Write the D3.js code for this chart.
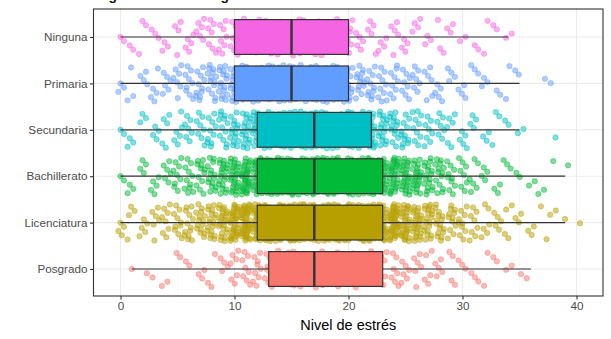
<!DOCTYPE html>
<html><head><meta charset="utf-8">
<script src="https://cdn.jsdelivr.net/npm/d3@7"></script>
<style>html,body{margin:0;padding:0;background:#fff}</style>
</head><body>
<script>
// Categories (top to bottom) and colours
const categories = ["Ninguna","Primaria","Secundaria","Bachillerato","Licenciatura","Posgrado"];
const colors = ["#F564E3","#619CFF","#00BFC4","#00BA38","#B79F00","#F8766D"];
const xTicks = [0,10,20,30,40];
const xMinorTicks = [5,15,25,35];
// Estimated counts of respondents per stress level (0..40) per category
const countsNinguna = [2,2,3,3,3,4,5,6,7,8, 9,9,9,10,10,11,10,10,9,9, 9,5,5,4,5,4,4,3,3,3, 2,2,2,2,2,0,0,0,0,0,0];
const countsPrimaria = [3,3,4,5,6,7,9,11,14,16, 18,18,19,20,20,20,19,18,17,16, 15,13,11,10,9,8,7,6,5,4, 4,3,3,2,2,2,0,1,1,0,0];
const countsSecundaria = [2,3,3,4,5,6,7,8,10,12, 15,18,22,23,24,25,25,25,24,23, 22,21,20,17,14,12,10,8,7,6, 5,4,3,3,2,2,0,0,1,0,0];
const countsBachillerato = [2,3,4,5,6,9,11,12,15,20, 26,32,28,32,34,35,36,36,35,34, 32,30,28,25,30,26,22,18,14,10, 8,6,4,3,3,2,2,2,1,1,0];
const countsLicenciatura = [4,4,5,6,8,10,13,15,18,24, 34,42,36,40,43,45,46,46,45,43, 40,38,35,32,40,30,25,20,16,12, 10,8,6,5,4,3,3,2,2,1,1];
const countsPosgrado = [0,1,1,1,2,2,2,3,3,4, 7,8,9,10,11,12,12,12,10,9, 8,8,7,7,7,6,6,5,5,4, 3,3,2,2,2,1,1,0,0,0,0];
const allCounts = [countsNinguna,countsPrimaria,countsSecundaria,countsBachillerato,countsLicenciatura,countsPosgrado];

const W = 611, H = 339;
const svg = d3.select("body").append("svg").attr("width",W).attr("height",H)
  .style("font-family","'Liberation Sans', Arial, sans-serif");

const pL = 93.5, pR = 603, pT = 9, pB = 296;
const k = 11.4;
const x = d3.scaleLinear().domain([(pL-120.5)/k, (pR-120.5)/k]).range([pL,pR]);
const y = d3.scalePoint().domain(categories).range([37, 269]);
const step = y.step();

// title (cut off at the top edge, as in the reference)
svg.append("text").attr("x",96).attr("y",0).attr("font-size",14).attr("font-weight","bold")
  .attr("fill","#111").text("Figura 1. Estrés según nivel educativo");

// grid
const g = svg.append("g");
g.selectAll(".minor").data(xMinorTicks).join("line")
  .attr("x1",d=>x(d)).attr("x2",d=>x(d)).attr("y1",pT).attr("y2",pB)
  .attr("stroke","#f2f2f2").attr("stroke-width",0.6);
g.selectAll(".major").data(xTicks).join("line")
  .attr("x1",d=>x(d)).attr("x2",d=>x(d)).attr("y1",pT).attr("y2",pB)
  .attr("stroke","#ebebeb").attr("stroke-width",1.1);
g.selectAll(".hmajor").data(categories).join("line")
  .attr("x1",pL).attr("x2",pR).attr("y1",d=>y(d)).attr("y2",d=>y(d))
  .attr("stroke","#ebebeb").attr("stroke-width",1.1);

// jittered points (deterministic low-discrepancy jitter, ±0.4)
const a1 = 0.7548776662, a2 = 0.5698402910;
const frac = v => v - Math.floor(v);
const ptsG = svg.append("g");
categories.forEach((cat,ci)=>{
  const pts = [];
  let idx = 0;
  allCounts[ci].forEach((c,v)=>{
    for(let j=0;j<c;j++){ pts.push({v, i: idx++}); }
  });
  ptsG.append("g").selectAll("circle").data(pts).join("circle")
    .attr("cx",d=>x(d.v + (frac(0.5 + d.i*a1*7.13) - 0.5)*0.8))
    .attr("cy",d=>y(cat) + (frac(0.5 + d.i*a2*3.71) - 0.5)*0.8*step)
    .attr("r",2.7)
    .attr("fill",colors[ci]).attr("fill-opacity",0.5)
    .attr("stroke",colors[ci]).attr("stroke-opacity",0.5).attr("stroke-width",0.8);
});

// boxplots
const boxG = svg.append("g");
categories.forEach((cat,ci)=>{
  const vals = [];
  allCounts[ci].forEach((c,v)=>{ for(let j=0;j<c;j++) vals.push(v); });
  vals.sort(d3.ascending);
  const q1 = d3.quantile(vals,0.25), med = d3.quantile(vals,0.5), q3 = d3.quantile(vals,0.75);
  const iqr = q3-q1;
  const lo = d3.min(vals.filter(v=>v>=q1-1.5*iqr));
  const hi = d3.max(vals.filter(v=>v<=q3+1.5*iqr));
  const cy = y(cat), bh = step*0.75;
  boxG.append("line").attr("x1",x(lo)).attr("x2",x(q1)).attr("y1",cy).attr("y2",cy)
    .attr("stroke","#333").attr("stroke-width",1.2);
  boxG.append("line").attr("x1",x(q3)).attr("x2",x(hi)).attr("y1",cy).attr("y2",cy)
    .attr("stroke","#333").attr("stroke-width",1.2);
  boxG.append("rect").attr("x",x(q1)).attr("width",x(q3)-x(q1)).attr("y",cy-bh/2).attr("height",bh)
    .attr("fill",colors[ci]).attr("stroke","#333").attr("stroke-width",1.2);
  boxG.append("line").attr("x1",x(med)).attr("x2",x(med)).attr("y1",cy-bh/2).attr("y2",cy+bh/2)
    .attr("stroke","#333").attr("stroke-width",2.4);
});

// panel border
svg.append("rect").attr("x",pL).attr("y",pT).attr("width",pR-pL).attr("height",pB-pT)
  .attr("fill","none").attr("stroke","#333").attr("stroke-width",1.1);

// axes
const xAxis = svg.append("g").attr("transform",`translate(0,${pB})`)
  .call(d3.axisBottom(x).tickValues(xTicks).tickSize(3.5).tickPadding(2.5).tickFormat(d3.format("d")));
xAxis.select(".domain").remove();
xAxis.selectAll("line").attr("stroke","#333").attr("stroke-width",1.1);
xAxis.selectAll("text").attr("fill","#4d4d4d").attr("font-size",11.7)
  .style("font-family","'Liberation Sans', Arial, sans-serif");

const yAxis = svg.append("g").attr("transform",`translate(${pL},0)`)
  .call(d3.axisLeft(y).tickSize(3.5).tickPadding(2.5));
yAxis.select(".domain").remove();
yAxis.selectAll("line").attr("stroke","#333").attr("stroke-width",1.1);
yAxis.selectAll("text").attr("fill","#4d4d4d").attr("font-size",11.7)
  .style("font-family","'Liberation Sans', Arial, sans-serif");

svg.append("text").attr("x",(pL+pR)/2).attr("y",330).attr("text-anchor","middle")
  .attr("font-size",14.5).attr("fill","#000").text("Nivel de estrés");
</script>
</body></html>
